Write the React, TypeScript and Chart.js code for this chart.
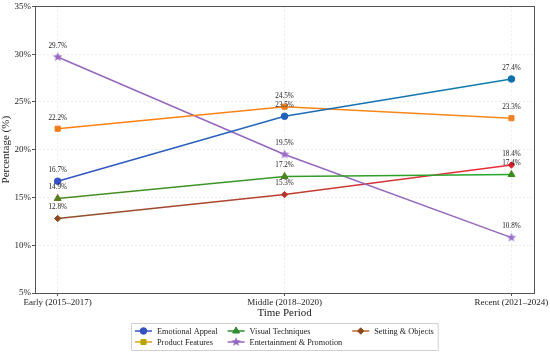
import React, { useEffect, useRef } from "react";
import { Chart, registerables } from "chart.js";
import { drawPoint } from "chart.js/helpers";

Chart.register(...registerables);

const categories = ["Early (2015–2017)", "Middle (2018–2020)", "Recent (2021–2024)"];
const seriesNames = ["Emotional Appeal", "Product Features", "Visual Techniques", "Entertainment & Promotion", "Setting & Objects"];
const emotionalAppeal = [16.7, 23.5, 27.4];
const productFeatures = [22.2, 24.5, 23.3];
const visualTechniques = [14.9, 17.2, 17.4];
const entertainmentPromotion = [29.7, 19.5, 10.8];
const settingObjects = [12.8, 15.3, 18.4];
const yTicks = [5, 10, 15, 20, 25, 30, 35];

const FONT = "'Liberation Serif', 'DejaVu Serif', serif";

type Style = {
  start: string; end: string; pStart: string; pEnd: string;
  point: string; radius: number; legendLine: string; legendMarker: string;
};

const styles: Style[] = [
  { start: "#3452c4", end: "#0b80aa", pStart: "#3550c8", pEnd: "#0c6fae", point: "circle", radius: 3.3, legendLine: "#3452c4", legendMarker: "#3452c4" },
  { start: "#ff7f0e", end: "#f58a1c", pStart: "#f07a16", pEnd: "#f08020", point: "rect", radius: 3.6, legendLine: "#d8a020", legendMarker: "#b8a400" },
  { start: "#4a8a24", end: "#22a82c", pStart: "#5a7c1e", pEnd: "#3a8c1e", point: "triangle", radius: 4, legendLine: "#2e8b2e", legendMarker: "#2e8b2e" },
  { start: "#9467bd", end: "#9467bd", pStart: "#9a68c4", pEnd: "#9a70d0", point: "star", radius: 5, legendLine: "#9467bd", legendMarker: "#9467bd" },
  { start: "#8a5228", end: "#f02a3c", pStart: "#8c4a24", pEnd: "#e0202c", point: "rectRot", radius: 3.2, legendLine: "#c8602a", legendMarker: "#8c4a1c" },
];

function hexToRgb(h: string) {
  const n = parseInt(h.slice(1), 16);
  return [(n >> 16) & 255, (n >> 8) & 255, n & 255];
}
function mix(a: string, b: string, t: number) {
  const A = hexToRgb(a), B = hexToRgb(b);
  const c = A.map((v, i) => Math.round(v + (B[i] - v) * t));
  return `rgb(${c[0]},${c[1]},${c[2]})`;
}

function starCanvas(color: string, outer: number) {
  const size = Math.ceil(outer * 2 + 2);
  const c = document.createElement("canvas");
  c.width = size;
  c.height = size;
  const g = c.getContext("2d")!;
  const cx = size / 2, cy = size / 2, inner = outer * 0.42;
  g.beginPath();
  for (let k = 0; k < 10; k++) {
    const r = k % 2 === 0 ? outer : inner;
    const ang = -Math.PI / 2 + (k * Math.PI) / 5;
    const px = cx + r * Math.cos(ang), py = cy + r * Math.sin(ang);
    if (k === 0) g.moveTo(px, py); else g.lineTo(px, py);
  }
  g.closePath();
  g.fillStyle = color;
  g.fill();
  return c;
}

export default function App() {
  const ref = useRef<HTMLCanvasElement | null>(null);
  useEffect(() => {
    if (!ref.current) return;
    Chart.defaults.font.family = FONT;
    const allSeries = [emotionalAppeal, productFeatures, visualTechniques, entertainmentPromotion, settingObjects];

    const datasets = allSeries.map((vals, si) => {
      const st = styles[si];
      const colors = vals.map((_, i) => mix(st.pStart, st.pEnd, i / (vals.length - 1)));
      return {
        label: seriesNames[si],
        data: vals.map((v, i) => ({ x: i, y: v })),
        borderWidth: 1.5,
        borderColor: (ctx: any) => {
          const chart = ctx.chart;
          if (!chart.chartArea) return st.start;
          const xs = chart.scales.x;
          const g = chart.ctx.createLinearGradient(xs.getPixelForValue(0), 0, xs.getPixelForValue(categories.length - 1), 0);
          g.addColorStop(0, st.start);
          g.addColorStop(1, st.end);
          return g;
        },
        pointStyle: st.point === "star" ? colors.map((c) => starCanvas(c, st.radius)) : st.point,
        pointRadius: st.radius,
        pointBorderWidth: 1,
        pointBackgroundColor: colors,
        pointBorderColor: colors,
        tension: 0,
        fill: false,
      };
    });

    const frame = {
      id: "frame",
      afterDatasetsDraw(chart: any) {
        const { ctx, chartArea: a } = chart;
        ctx.save();
        ctx.strokeStyle = "#555";
        ctx.lineWidth = 1;
        ctx.strokeRect(Math.round(a.left) + 0.5, Math.round(a.top) + 0.5, Math.round(a.right - a.left), Math.round(a.bottom - a.top));
        ctx.restore();
      },
    };

    const labels = {
      id: "valueLabels",
      afterDatasetsDraw(chart: any) {
        const { ctx } = chart;
        ctx.save();
        ctx.font = `7.2px ${FONT}`;
        ctx.fillStyle = "#222";
        ctx.textAlign = "center";
        ctx.textBaseline = "middle";
        chart.data.datasets.forEach((ds: any, di: number) => {
          const meta = chart.getDatasetMeta(di);
          meta.data.forEach((pt: any, i: number) => {
            ctx.fillText(`${ds.data[i].y.toFixed(1)}%`, pt.x, pt.y - 11);
          });
        });
        ctx.restore();
      },
    };

    const legend = {
      id: "boxLegend",
      afterDraw(chart: any) {
        const { ctx, chartArea: a } = chart;
        ctx.save();
        ctx.font = `8.3px ${FONT}`;
        const cols = [[0, 1], [2, 3], [4]];
        const handle = 17, gap = 5, spacing = 10, pad = 4, rowH = 11;
        const widths = cols.map((c) => handle + gap + Math.max(...c.map((i) => ctx.measureText(seriesNames[i]).width)));
        const total = pad * 2 + widths.reduce((s, w) => s + w, 0) + spacing * (cols.length - 1);
        const cx = (a.left + a.right) / 2;
        const left = Math.round(cx - total / 2);
        const top = 323;
        const h = pad * 2 + rowH * 2 - 3;
        ctx.strokeStyle = "#d0d0d0";
        ctx.fillStyle = "rgba(255,255,255,0.8)";
        ctx.lineWidth = 1;
        ctx.beginPath();
        ctx.rect(left + 0.5, top + 0.5, total, h);
        ctx.fill();
        ctx.stroke();
        let x = left + pad;
        cols.forEach((c, ci) => {
          c.forEach((si, ri) => {
            const y = top + pad + 4 + ri * rowH;
            const st = styles[si];
            ctx.strokeStyle = st.legendLine;
            ctx.lineWidth = 1.5;
            ctx.beginPath();
            ctx.moveTo(x, y);
            ctx.lineTo(x + handle, y);
            ctx.stroke();
            ctx.fillStyle = st.legendMarker;
            ctx.strokeStyle = st.legendMarker;
            ctx.lineWidth = 1;
            const ps = st.point === "star" ? starCanvas(st.legendMarker, st.radius) : st.point;
            drawPoint(ctx, { pointStyle: ps, radius: st.radius, rotation: 0, borderWidth: 1 } as any, x + handle / 2, y);
            ctx.fillStyle = "#222";
            ctx.textBaseline = "middle";
            ctx.textAlign = "left";
            ctx.fillText(seriesNames[si], x + handle + gap, y + 0.5);
          });
          x += widths[ci] + spacing;
        });
        ctx.restore();
      },
    };

    const chart = new Chart(ref.current, {
      type: "line",
      data: { datasets: datasets as any },
      options: {
        animation: false,
        responsive: false,
        layout: { padding: { left: 0, right: 15, top: 5, bottom: 30 } },
        plugins: { legend: { display: false }, tooltip: { enabled: false } },
        scales: {
          x: {
            type: "linear",
            min: -0.1,
            max: categories.length - 0.9,
            afterBuildTicks: (s: any) => { s.ticks = categories.map((_, i) => ({ value: i })); },
            afterFit: (s: any) => { s.height = 29; },
            ticks: {
              callback: (v: any) => categories[v as number] ?? "",
              font: { size: 9 },
              color: "#222",
              padding: 1,
              maxRotation: 0,
            },
            grid: { color: "rgba(200,200,200,0.35)", tickLength: 3, tickColor: "#555", tickBorderDash: [] },
            border: { display: false, dash: [2, 2] },
            title: { display: true, text: "Time Period", font: { size: 11 }, color: "#222", padding: { top: 2, bottom: 2 } },
          },
          y: {
            min: 5,
            max: 35,
            afterBuildTicks: (s: any) => { s.ticks = yTicks.map((v) => ({ value: v })); },
            afterFit: (s: any) => { s.width = 35; },
            ticks: { callback: (v: any) => `${v}%`, font: { size: 9 }, color: "#222", padding: 1 },
            grid: { color: "rgba(200,200,200,0.35)", tickLength: 3, tickColor: "#555", tickBorderDash: [] },
            border: { display: false, dash: [2, 2] },
            title: { display: true, text: "Percentage (%)", font: { size: 11 }, color: "#222", padding: 0 },
          },
        },
      },
      plugins: [frame, labels, legend],
    });
    return () => chart.destroy();
  }, []);

  return (
    <div style={{ position: "absolute", left: 0, top: 0, width: 550, height: 352, background: "#fff" }}>
      <canvas ref={ref} width={550} height={352} style={{ display: "block" }} />
    </div>
  );
}
